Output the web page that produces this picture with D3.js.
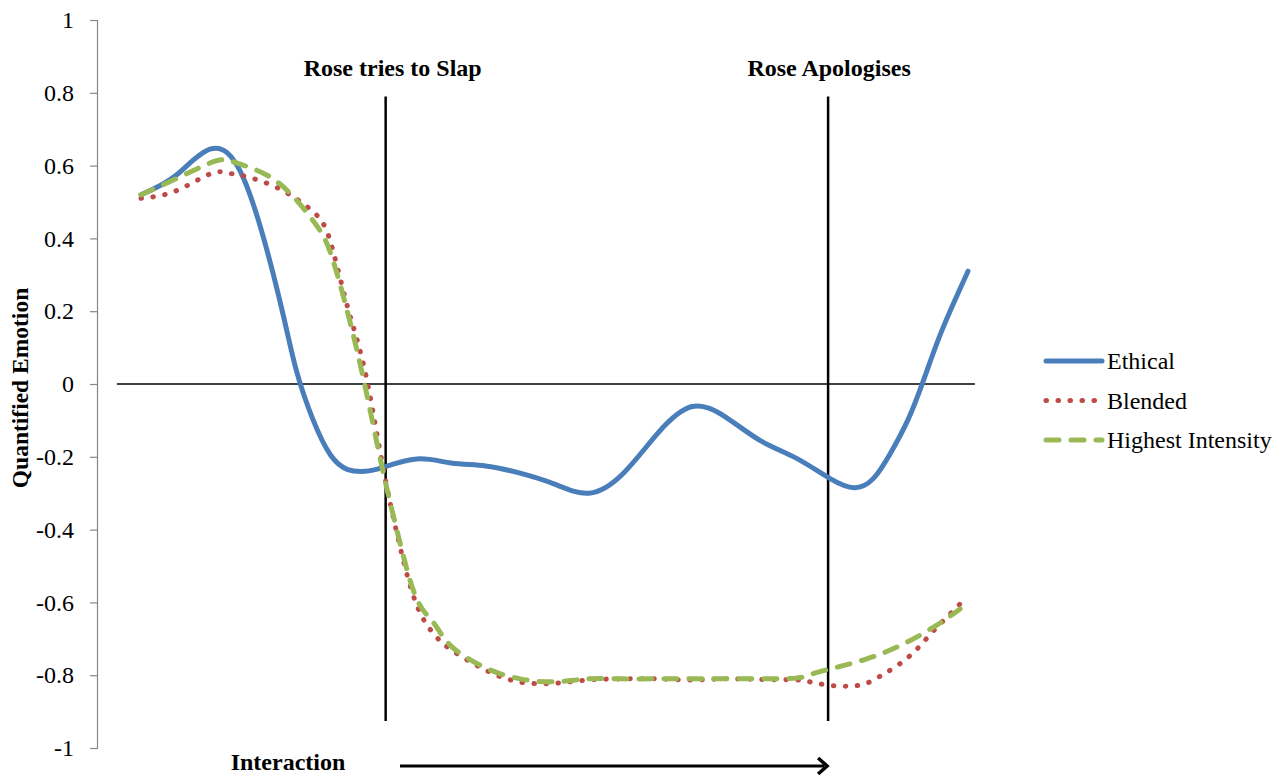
<!DOCTYPE html>
<html>
<head>
<meta charset="utf-8">
<script src="https://cdn.jsdelivr.net/npm/d3@7"></script>
<style>
  html, body { margin: 0; padding: 0; background: #fff; }
  svg { display: block; }
  text { font-family: "Liberation Serif", "Times New Roman", serif; }
</style>
</head>
<body>
<svg id="chart" width="1282" height="776"></svg>
<script>
// ---- data ----
const yTicks = [1, 0.8, 0.6, 0.4, 0.2, 0, -0.2, -0.4, -0.6, -0.8, -1];
const tickLabels = ["1", "0.8", "0.6", "0.4", "0.2", "0", "-0.2", "-0.4", "-0.6", "-0.8", "-1"];
const seriesNames = ["Ethical", "Blended", "Highest Intensity"];

const ethicalT = [0, 1, 2, 3, 4, 4.5, 5, 5.5, 6, 6.5, 7, 8, 9, 10, 11, 12, 13, 14, 15, 16, 17, 18, 19, 20, 20.7, 21.25, 21.75, 22.25, 22.7, 23.2, 23.7, 24];
const ethicalV = [0.52, 0.572, 0.645, 0.56, 0.24, 0.04, -0.1, -0.195, -0.235, -0.24, -0.23, -0.206, -0.217, -0.225, -0.245, -0.275, -0.30, -0.245, -0.135, -0.062, -0.093, -0.157, -0.203, -0.26, -0.285, -0.26, -0.19, -0.10, 0.008, 0.137, 0.247, 0.31];

const blendedT = [0, 1, 2, 2.5, 3, 4, 5, 5.5, 6, 6.5, 7, 7.5, 8, 8.5, 9, 10, 11, 12, 13, 14, 15, 16, 17, 18, 19, 19.5, 20, 20.5, 21, 21.5, 22, 22.5, 23, 23.5, 23.77];
const blendedV = [0.51, 0.53, 0.577, 0.58, 0.571, 0.537, 0.473, 0.39, 0.21, 0.036, -0.217, -0.44, -0.607, -0.687, -0.73, -0.786, -0.819, -0.822, -0.813, -0.81, -0.81, -0.813, -0.81, -0.812, -0.813, -0.82, -0.828, -0.83, -0.824, -0.80, -0.77, -0.73, -0.678, -0.63, -0.604];

const highestT = [0, 1, 2, 2.5, 3, 4, 5, 5.5, 6, 6.5, 7, 7.5, 8, 8.5, 9, 10, 11, 12, 13, 14, 15, 16, 17, 18, 19, 19.5, 20, 21, 22, 23, 23.77];
const highestV = [0.52, 0.563, 0.607, 0.615, 0.60, 0.552, 0.448, 0.36, 0.195, -0.005, -0.23, -0.43, -0.59, -0.657, -0.72, -0.78, -0.81, -0.818, -0.81, -0.81, -0.81, -0.81, -0.81, -0.81, -0.808, -0.796, -0.783, -0.757, -0.72, -0.668, -0.618];

const eventLabels = ["Rose tries to Slap", "Rose Apologises"];
const eventT = [7.1, 19.94];
const xAxisTitle = "Interaction";
const yAxisTitle = "Quantified Emotion";

// ---- layout ----
const FONT = '"Liberation Serif", "Times New Roman", serif';
const svg = d3.select("#chart");
const x = d3.scaleLinear().domain([0, 24]).range([141, 968]);
const y = d3.scaleLinear().domain([-1, 1]).range([748, 20]);

const styles = [
  { color: "#4A7EBB", width: 5, dash: null, cap: "round" },
  { color: "#BE4B48", width: 5, dash: "0.5 11.5", cap: "round" },
  { color: "#98B954", width: 5, dash: "13 12", cap: "round" }
];

// y axis
const yAxis = d3.axisLeft(y).tickValues(yTicks).tickSize(7).tickPadding(16)
  .tickFormat((d, i) => tickLabels[i]);
const gy = svg.append("g").attr("transform", "translate(97,0)")
  .attr("font-family", FONT).attr("font-size", 24).call(yAxis);
gy.select(".domain").attr("stroke", "#868686").attr("stroke-width", 1.2);
gy.selectAll(".tick line").attr("stroke", "#868686").attr("stroke-width", 1.2);
gy.selectAll(".tick text")
  .attr("fill", "#000")
  .style("font-family", FONT)
  .style("font-size", "24px");

// y title
svg.append("text")
  .attr("transform", "translate(28,388) rotate(-90)")
  .attr("text-anchor", "middle")
  .style("font-size", "23.5px")
  .style("font-weight", "bold")
  .text(yAxisTitle);

// zero line
svg.append("line")
  .attr("x1", x(-0.7)).attr("x2", x(24.2))
  .attr("y1", y(0)).attr("y2", y(0))
  .attr("stroke", "#000").attr("stroke-width", 1.5);

// event lines and labels
eventT.forEach((t, i) => {
  svg.append("line")
    .attr("x1", x(t)).attr("x2", x(t))
    .attr("y1", y(0.79)).attr("y2", y(-0.926))
    .attr("stroke", "#000").attr("stroke-width", 2.5);
  svg.append("text")
    .attr("x", x(t) + (i === 0 ? 7 : 1))
    .attr("y", 76)
    .attr("text-anchor", "middle")
    .style("font-size", "24px")
    .style("font-weight", "bold")
    .text(eventLabels[i]);
});

// series
const line = d3.line().x(d => x(d[0])).y(d => y(d[1])).curve(d3.curveNatural);
const allSeries = [
  d3.zip(ethicalT, ethicalV),
  d3.zip(blendedT, blendedV),
  d3.zip(highestT, highestV)
];
allSeries.forEach((data, i) => {
  const s = styles[i];
  svg.append("path")
    .datum(data)
    .attr("d", line)
    .attr("fill", "none")
    .attr("stroke", s.color)
    .attr("stroke-width", s.width)
    .attr("stroke-linecap", s.cap)
    .attr("stroke-linejoin", "round")
    .attr("stroke-dasharray", s.dash);
});

// legend
const legend = svg.append("g");
seriesNames.forEach((name, i) => {
  const s = styles[i];
  const ly = 361 + i * 39.5;
  legend.append("line")
    .attr("x1", 1046).attr("x2", 1102)
    .attr("y1", ly).attr("y2", ly)
    .attr("stroke", s.color)
    .attr("stroke-width", s.width)
    .attr("stroke-linecap", s.cap)
    .attr("stroke-dasharray", s.dash);
  legend.append("text")
    .attr("x", 1107).attr("y", ly + 8)
    .style("font-size", "24px")
    .text(name);
});

// x title and arrow
svg.append("text")
  .attr("x", 288).attr("y", 770)
  .attr("text-anchor", "middle")
  .style("font-size", "24px")
  .style("font-weight", "bold")
  .text(xAxisTitle);

const ax = x(eventT[1]);
svg.append("line")
  .attr("x1", 400).attr("x2", ax - 4)
  .attr("y1", 766).attr("y2", 766)
  .attr("stroke", "#000").attr("stroke-width", 3);
svg.append("path")
  .attr("d", `M${ax - 10},758 L${ax - 1},766 L${ax - 10},774`)
  .attr("fill", "none")
  .attr("stroke", "#000").attr("stroke-width", 3.5)
  .attr("stroke-linejoin", "miter");
</script>
</body>
</html>
